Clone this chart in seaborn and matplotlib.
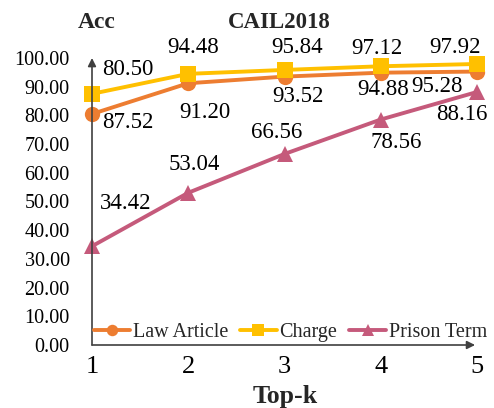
import matplotlib
matplotlib.use("Agg")
import matplotlib.pyplot as plt
import pandas as pd
import seaborn as sns

# data
TOP_K = [1, 2, 3, 4, 5]
LAW_ARTICLE = [80.50, 91.20, 93.52, 94.88, 95.28]
CHARGE = [87.52, 94.48, 95.84, 97.12, 97.92]
PRISON_TERM = [34.42, 53.04, 66.56, 78.56, 88.16]
SERIES = ["Law Article", "Charge", "Prison Term"]
Y_TICKS = [0, 10, 20, 30, 40, 50, 60, 70, 80, 90, 100]

# label offsets in pixels (dx, dy up) for each point
OFFSETS = {
    "Law Article": [(36, 44), (17, -29), (13, -20), (2, -17), (-40, -15)],
    "Charge": [(36, -29), (5, 26), (13, 22), (-4, 18), (-22, 16)],
    "Prison Term": [(34, 43), (6, 28), (-8, 21), (15, -23), (-15, -23)],
}
COLORS = {"Law Article": "#ED7D31", "Charge": "#FFC000", "Prison Term": "#C55A7B"}
MARKERS = {"Law Article": "o", "Charge": "s", "Prison Term": "^"}

df = pd.DataFrame({
    "Top-k": TOP_K * 3,
    "Acc": LAW_ARTICLE + CHARGE + PRISON_TERM,
    "Series": [s for s in SERIES for _ in TOP_K],
})

sns.set_theme(style="white")
plt.rcParams["font.family"] = ["Liberation Serif", "DejaVu Serif"]

fig = plt.figure(figsize=(4.94, 4.08), dpi=100)
ax = fig.add_axes([92 / 494, 1 - 345 / 408, 385 / 494, 287 / 408])

sns.lineplot(data=df, x="Top-k", y="Acc", hue="Series", style="Series",
             palette=COLORS, markers=MARKERS, dashes=False, lw=2.8,
             markersize=11, markeredgewidth=0, ax=ax, clip_on=False)

for s in SERIES:
    vals = df.loc[df["Series"] == s, "Acc"].tolist()
    for k, v, (dx, dy) in zip(TOP_K, vals, OFFSETS[s]):
        ax.annotate(f"{v:.2f}", xy=(k, v), xytext=(dx * 0.72, dy * 0.72),
                    textcoords="offset points", ha="center", va="center",
                    fontsize=16.5, color="black")

ax.set_xlim(1, 5)
ax.set_ylim(0, 100)
ax.set_xticks(TOP_K)
ax.set_yticks(Y_TICKS)
ax.set_yticklabels([f"{t:.2f}" for t in Y_TICKS], fontsize=14.5)
ax.set_xticklabels([str(t) for t in TOP_K], fontsize=19)
ax.tick_params(axis="both", length=0, colors="black")
ax.tick_params(axis="x", pad=8)
ax.tick_params(axis="y", pad=16)
ax.set_xlabel("")
ax.set_ylabel("")
for sp in ax.spines.values():
    sp.set_visible(False)

# axes with arrow heads
ax.annotate("", xy=(0, 1.0), xytext=(0, 0), xycoords="axes fraction",
            arrowprops=dict(arrowstyle="-|>", color="#404040", lw=1.2,
                            mutation_scale=12, shrinkA=0, shrinkB=0))
ax.annotate("", xy=(0.995, 0), xytext=(0, 0), xycoords="axes fraction",
            arrowprops=dict(arrowstyle="-|>", color="#404040", lw=1.2,
                            mutation_scale=12, shrinkA=0, shrinkB=0))

fig.text(97 / 494, 1 - 23 / 408, "Acc", fontsize=17, fontweight="bold",
         ha="center", va="center")
fig.text(279 / 494, 1 - 22 / 408, "CAIL2018", fontsize=16.5, fontweight="bold",
         ha="center", va="center")
fig.text(285 / 494, 0.0, "Top-k", fontsize=18.5, fontweight="bold",
         ha="center", va="bottom")

handles, labels = ax.get_legend_handles_labels()
ax.legend(handles, labels, loc="center", bbox_to_anchor=(0.515, 0.045),
          ncol=3, frameon=False, fontsize=14.5, handlelength=1.8,
          handletextpad=0.15, columnspacing=0.6, borderaxespad=0,
          markerscale=0.75)

fig.savefig("out.png", dpi=100)
